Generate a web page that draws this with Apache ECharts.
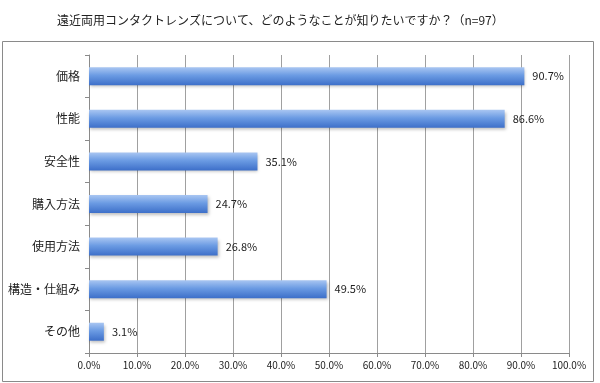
<!DOCTYPE html>
<html><head><meta charset="utf-8">
<script src="https://cdn.jsdelivr.net/npm/echarts@6/dist/echarts.min.js"></script>
<style>html,body{margin:0;padding:0;background:#fff}#c{width:600px;height:383px}</style>
</head><body><div id="c"></div>
<script>
const categories = ['価格','性能','安全性','購入方法','使用方法','構造・仕組み','その他'];
const values = [90.7, 86.6, 35.1, 24.7, 26.8, 49.5, 3.1];
const titleText = '遠近両用コンタクトレンズについて、どのようなことが知りたいですか？（n=97）';
const font = '"Noto Sans CJK JP", sans-serif';
const chart = echarts.init(document.getElementById('c'));
chart.setOption({
  animation:false,
  title:{text:titleText,left:52,top:9,textStyle:{fontFamily:font,fontSize:12,fontWeight:'normal',color:'#222'}},
  graphic:[{type:'rect',shape:{x:2.5,y:41.5,width:591,height:340},style:{fill:null,stroke:'#8a8a8a',lineWidth:1}}],
  grid:{left:89,right:31,top:55,bottom:30},
  xAxis:{type:'value',min:0,max:100,interval:10,
    axisLine:{show:true,lineStyle:{color:'#8a8a8a'}},
    axisTick:{show:true,length:4,lineStyle:{color:'#8a8a8a'}},
    splitLine:{lineStyle:{color:'#a0a0a0'}},
    axisLabel:{formatter:v=>v.toFixed(1)+'%',fontFamily:font,fontSize:10,color:'#222',margin:7}},
  yAxis:{type:'category',data:categories,inverse:true,
    axisLine:{lineStyle:{color:'#8a8a8a'}},
    axisTick:{show:true,length:4,lineStyle:{color:'#8a8a8a'}},
    axisLabel:{fontFamily:font,fontSize:12,color:'#222',margin:9}},
  series:[{type:'bar',data:values,barWidth:18,
    itemStyle:{color:new echarts.graphic.LinearGradient(0,0,0,1,[
      {offset:0,color:'#a9c6f2'},{offset:0.45,color:'#6b9be3'},{offset:1,color:'#3d6fc9'}]),
      shadowColor:'rgba(0,0,0,0.25)',shadowBlur:3,shadowOffsetX:1,shadowOffsetY:2},
    label:{show:true,position:'right',distance:8,formatter:p=>p.value.toFixed(1)+'%',fontFamily:font,fontSize:11,color:'#222'}}]
});
</script></body></html>
